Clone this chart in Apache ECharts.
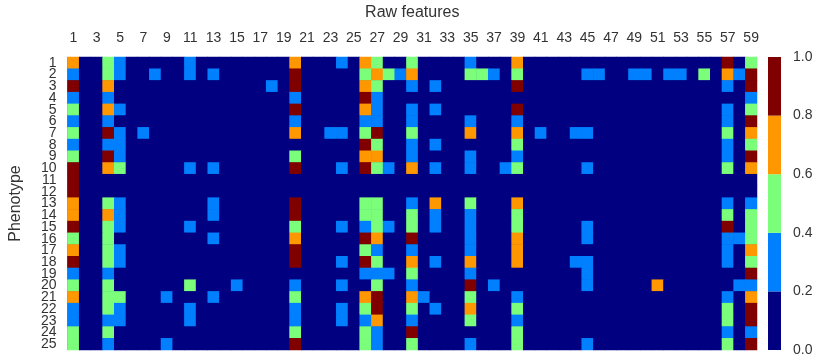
<!DOCTYPE html>
<html>
<head>
<meta charset="utf-8">
<script src="https://cdn.jsdelivr.net/npm/echarts@6/dist/echarts.min.js"></script>
<style>
html,body{margin:0;padding:0;background:#fff;}
#chart{width:814px;height:362px;}
</style>
</head>
<body>
<div id="chart"></div>
<script>
const featureLabels = ['1','2','3','4','5','6','7','8','9','10','11','12','13','14','15','16','17','18','19','20',
  '21','22','23','24','25','26','27','28','29','30','31','32','33','34','35','36','37','38','39','40',
  '41','42','43','44','45','46','47','48','49','50','51','52','53','54','55','56','57','58','59'];
const phenotypeLabels = ['1','2','3','4','5','6','7','8','9','10','11','12','13','14','15','16','17','18','19','20','21','22','23','24','25'];
const colorbarTicks = [0, 0.2, 0.4, 0.6, 0.8, 1.0];
const colorbarBands = [0.2, 0.2, 0.2, 0.2, 0.2];
const bandColors = ['#000080', '#0080ff', '#7bff7b', '#ff9700', '#800000'];

const p1 = [0.7,0,0,0.5,0.3,0,0,0,0,0, 0.3,0,0,0,0,0,0,0,0,0.7, 0,0,0,0.3,0,0.7,0.5,0,0,0.5, 0,0,0,0,0.3,0,0,0,0.7,0, 0,0,0,0,0,0,0,0,0,0, 0,0,0,0,0,0,0.9,0,0.5];
const p2 = [0.3,0,0,0.5,0.3,0,0,0.3,0,0, 0.3,0,0.3,0,0,0,0,0,0,0.9, 0,0,0,0,0,0.5,0.7,0.5,0.3,0.7, 0,0,0,0,0.5,0.5,0.3,0,0.5,0, 0,0,0,0,0.3,0.3,0,0,0.3,0.3, 0,0.3,0.3,0,0.5,0,0.7,0.3,0.9];
const p3 = [0.9,0,0,0.7,0,0,0,0,0,0, 0,0,0,0,0,0,0,0.3,0,0.9, 0,0,0,0,0,0.7,0.5,0,0,0.3, 0,0.3,0,0,0,0,0,0,0.9,0, 0,0,0,0,0,0,0,0,0,0, 0,0,0,0,0,0,0.3,0,0.9];
const p4 = [0.3,0,0,0.3,0,0,0,0,0,0, 0,0,0,0,0,0,0,0,0,0.3, 0,0,0,0,0,0.9,0.3,0,0,0, 0,0,0,0,0,0,0,0,0,0, 0,0,0,0,0,0,0,0,0,0, 0,0,0,0,0,0,0,0,0.3];
const p5 = [0.5,0,0,0.7,0.3,0,0,0,0,0, 0,0,0,0,0,0,0,0,0,0.9, 0,0,0,0,0,0.7,0.3,0,0,0.3, 0,0.3,0,0,0,0,0,0,0.9,0, 0,0,0,0,0,0,0,0,0,0, 0,0,0,0,0,0,0.3,0,0.5];
const p6 = [0.3,0,0,0.3,0,0,0,0,0,0, 0,0,0,0,0,0,0,0,0,0.3, 0,0,0,0,0,0.3,0.3,0,0,0.3, 0,0,0,0,0.3,0,0,0,0.3,0, 0,0,0,0,0,0,0,0,0,0, 0,0,0,0,0,0,0.3,0,0.9];
const p7 = [0.5,0,0,0.9,0.3,0,0.3,0,0,0, 0,0,0,0,0,0,0,0,0,0.7, 0,0,0.3,0.3,0,0.5,0.9,0,0,0.5, 0,0,0,0,0.7,0,0,0,0.7,0, 0.3,0,0,0.3,0.3,0,0,0,0,0, 0,0,0,0,0,0,0.5,0,0.7];
const p8 = [0.3,0,0,0.3,0.3,0,0,0,0,0, 0,0,0,0,0,0,0,0,0,0, 0,0,0,0,0,0.9,0.5,0,0,0.3, 0,0.3,0,0,0,0,0,0,0.5,0, 0,0,0,0,0,0,0,0,0,0, 0,0,0,0,0,0,0.3,0,0.5];
const p9 = [0.5,0,0,0.9,0.3,0,0,0,0,0, 0,0,0,0,0,0,0,0,0,0.5, 0,0,0,0,0,0.7,0.7,0,0,0.3, 0,0,0,0,0.3,0,0,0,0.3,0, 0,0,0,0,0,0,0,0,0,0, 0,0,0,0,0,0,0.3,0,0.9];
const p10 = [0.9,0,0,0.7,0.5,0,0,0,0,0, 0.3,0,0.3,0,0,0,0,0,0,0.9, 0,0,0,0.3,0,0.9,0.5,0.3,0,0.7, 0,0.3,0,0,0.3,0,0,0.3,0.5,0, 0,0,0,0,0.3,0,0,0,0,0, 0,0,0,0,0,0,0.5,0,0.7];
const p11 = [0.9,0,0,0,0,0,0,0,0,0, 0,0,0,0,0,0,0,0,0,0, 0,0,0,0,0,0,0,0,0,0, 0,0,0,0,0,0,0,0,0,0, 0,0,0,0,0,0,0,0,0,0, 0,0,0,0,0,0,0,0,0];
const p12 = [0.9,0,0,0,0,0,0,0,0,0, 0,0,0,0,0,0,0,0,0,0, 0,0,0,0,0,0,0,0,0,0, 0,0,0,0,0,0,0,0,0,0, 0,0,0,0,0,0,0,0,0,0, 0,0,0,0,0,0,0,0,0];
const p13 = [0.7,0,0,0.5,0.3,0,0,0,0,0, 0,0,0.3,0,0,0,0,0,0,0.9, 0,0,0,0,0,0.5,0.5,0,0,0.3, 0,0.7,0,0,0.5,0,0,0,0.7,0, 0,0,0,0,0,0,0,0,0,0, 0,0,0,0,0,0,0.3,0,0.3];
const p14 = [0.7,0,0,0.7,0.3,0,0,0,0,0, 0,0,0.3,0,0,0,0,0,0,0.9, 0,0,0,0,0,0.5,0.5,0,0,0.5, 0,0.3,0,0,0.3,0,0,0,0.5,0, 0,0,0,0,0,0,0,0,0,0, 0,0,0,0,0,0,0.5,0,0.5];
const p15 = [0.9,0,0,0.5,0.3,0,0,0,0,0, 0.3,0,0,0,0,0,0,0,0,0.5, 0,0,0,0.3,0,0.3,0.5,0.3,0,0.5, 0,0.3,0,0,0.3,0,0,0,0.5,0, 0,0,0,0,0.3,0,0,0,0,0, 0,0,0,0,0,0,0.9,0,0.5];
const p16 = [0.5,0,0,0.5,0,0,0,0,0,0, 0,0,0.3,0,0,0,0,0,0,0.7, 0,0,0,0,0,0.9,0.7,0,0,0.9, 0,0,0,0,0.3,0,0,0,0.7,0, 0,0,0,0,0.3,0,0,0,0,0, 0,0,0,0,0,0,0.3,0.3,0.5];
const p17 = [0.7,0,0,0.5,0.3,0,0,0,0,0, 0,0,0,0,0,0,0,0,0,0.9, 0,0,0,0,0,0.5,0.3,0,0,0.3, 0,0,0,0,0.3,0,0,0,0.7,0, 0,0,0,0,0,0,0,0,0,0, 0,0,0,0,0,0,0.3,0,0.7];
const p18 = [0.9,0,0,0.5,0.3,0,0,0,0,0, 0,0,0,0,0,0,0,0,0,0.9, 0,0,0,0.3,0,0.9,0.5,0,0,0.7, 0,0.3,0,0,0.7,0,0,0,0.7,0, 0,0,0,0.3,0.3,0,0,0,0,0, 0,0,0,0,0,0,0.3,0,0.5];
const p19 = [0.3,0,0,0.3,0,0,0,0,0,0, 0,0,0,0,0,0,0,0,0,0, 0,0,0,0,0,0.3,0.3,0.3,0,0.5, 0,0,0,0,0.3,0,0,0,0,0, 0,0,0,0,0.3,0,0,0,0,0, 0,0,0,0,0,0,0,0,0.9];
const p20 = [0.5,0,0,0.5,0,0,0,0,0,0, 0.5,0,0,0,0.3,0,0,0,0,0.3, 0,0,0,0.3,0,0,0.5,0,0,0.3, 0,0,0,0,0.9,0,0.3,0,0,0, 0,0,0,0,0.3,0,0,0,0,0, 0.7,0,0,0,0,0,0,0.3,0.3];
const p21 = [0.7,0,0,0.5,0.5,0,0,0,0.3,0, 0,0,0.3,0,0,0,0,0,0,0.5, 0,0,0,0,0,0.7,0.9,0,0,0.7, 0.3,0,0,0,0.5,0,0,0,0.3,0, 0,0,0,0,0,0,0,0,0,0, 0,0,0,0,0,0,0.3,0,0.7];
const p22 = [0.3,0,0,0.5,0.3,0,0,0,0,0, 0.3,0,0,0,0,0,0,0,0,0.3, 0,0,0,0.3,0,0.5,0.9,0,0,0.5, 0,0.3,0,0,0.7,0,0,0,0.5,0, 0,0,0,0,0,0,0,0,0,0, 0,0,0,0,0,0,0.5,0,0.9];
const p23 = [0.3,0,0,0.3,0.3,0,0,0,0,0, 0.3,0,0,0,0,0,0,0,0,0.3, 0,0,0,0.3,0,0.3,0.7,0,0,0.3, 0,0,0,0,0.5,0,0,0,0.3,0, 0,0,0,0,0,0,0,0,0,0, 0,0,0,0,0,0,0.5,0,0.9];
const p24 = [0.5,0,0,0.5,0,0,0,0,0,0, 0,0,0,0,0,0,0,0,0,0.5, 0,0,0,0,0,0.5,0.3,0,0,0.9, 0,0,0,0,0,0,0,0,0.5,0, 0,0,0,0,0,0,0,0,0,0, 0,0,0,0,0,0,0.3,0,0.3];
const p25 = [0.5,0,0,0.3,0,0,0,0,0.3,0, 0,0,0,0,0,0,0,0,0,0.9, 0,0,0,0,0,0.5,0.3,0,0,0.5, 0,0,0,0,0.3,0,0,0,0.5,0, 0,0,0,0,0.3,0,0,0,0,0, 0,0,0,0,0,0,0.5,0,0.9];

const rows = [p1,p2,p3,p4,p5,p6,p7,p8,p9,p10,p11,p12,p13,p14,p15,p16,p17,p18,p19,p20,p21,p22,p23,p24,p25];
const heatData = [];
rows.forEach((row, yi) => row.forEach((v, xi) => heatData.push([xi, yi, v])));

const FONT = '"Liberation Sans", Arial, sans-serif';
const TXT = '#333';

const chart = echarts.init(document.getElementById('chart'), null, {renderer: 'canvas'});
chart.setOption({
  animation: false,
  backgroundColor: '#fff',
  textStyle: {fontFamily: FONT},
  grid: [
    {left: 67.5, top: 57, width: 689.5, height: 293, containLabel: false, outerBoundsMode: 'none',
     show: true, backgroundColor: bandColors[0], borderWidth: 0},
    {left: 768, top: 57, width: 13, height: 293, containLabel: false, outerBoundsMode: 'none'}
  ],
  xAxis: [
    {
      type: 'category', gridIndex: 0, data: featureLabels, position: 'top',
      name: 'Raw features', nameLocation: 'middle', nameGap: 36,
      nameTextStyle: {fontSize: 16, color: TXT, fontFamily: FONT},
      axisLine: {show: false}, axisTick: {show: false}, splitArea: {show: false},
      axisLabel: {interval: 1, fontSize: 14, color: TXT, margin: 12, fontFamily: FONT}
    },
    {
      type: 'category', gridIndex: 1, data: ['c'], show: false
    }
  ],
  yAxis: [
    {
      type: 'category', gridIndex: 0, data: phenotypeLabels, inverse: true,
      name: 'Phenotype', nameLocation: 'middle', nameGap: 44, nameRotate: 90,
      nameTextStyle: {fontSize: 16, color: TXT, fontFamily: FONT},
      axisLine: {show: false}, axisTick: {show: false},
      axisLabel: {interval: 0, fontSize: 14, color: TXT, margin: 11, fontFamily: FONT, lineHeight: 12}
    },
    {
      type: 'value', gridIndex: 1, min: colorbarTicks[0], max: colorbarTicks[colorbarTicks.length - 1], interval: 0.2,
      position: 'right',
      axisLine: {show: false}, axisTick: {show: false}, splitLine: {show: false},
      axisLabel: {fontSize: 14, color: TXT, margin: 12, fontFamily: FONT, formatter: v => v.toFixed(1)}
    }
  ],
  visualMap: {
    type: 'piecewise', show: false, seriesIndex: 0, dimension: 2,
    pieces: [
      {gte: 0.0, lt: 0.2, color: bandColors[0]},
      {gte: 0.2, lt: 0.4, color: bandColors[1]},
      {gte: 0.4, lt: 0.6, color: bandColors[2]},
      {gte: 0.6, lt: 0.8, color: bandColors[3]},
      {gte: 0.8, lte: 1.0, color: bandColors[4]}
    ]
  },
  series: [
    {
      type: 'heatmap', xAxisIndex: 0, yAxisIndex: 0, data: heatData,
      itemStyle: {borderWidth: 0}, emphasis: {disabled: true}
    }
  ].concat(colorbarBands.map((b, i) => ({
    type: 'bar', xAxisIndex: 1, yAxisIndex: 1, stack: 'cb', data: [b],
    barWidth: '100%', itemStyle: {color: bandColors[i]}, silent: true
  })))
});
</script>
</body>
</html>
